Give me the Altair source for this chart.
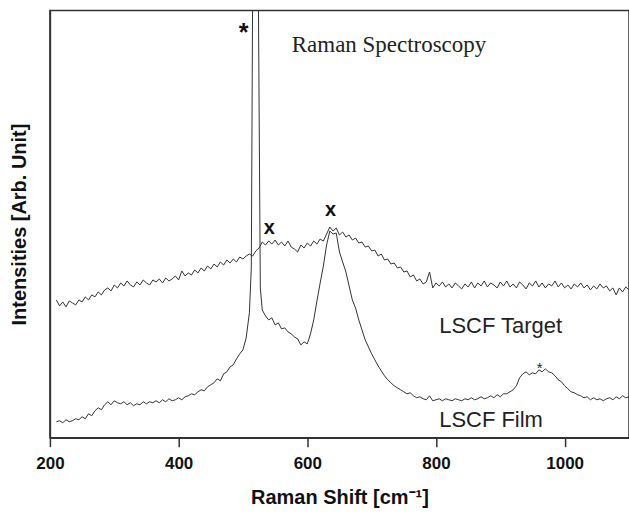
import altair as alt
import pandas as pd

# Raman shift sampling grid for the target spectrum (cm^-1)
shift = [
    210, 215, 220, 225, 230, 235, 240, 245, 250, 255,
    260, 265, 270, 275, 280, 285, 290, 295, 300, 305,
    310, 315, 320, 325, 330, 335, 340, 345, 350, 355,
    360, 365, 370, 375, 380, 385, 390, 395, 400, 405,
    410, 415, 420, 425, 430, 435, 440, 445, 450, 455,
    460, 465, 470, 475, 480, 485, 490, 495, 500, 505,
    510, 515, 520, 525, 530, 535, 540, 545, 550, 555,
    560, 565, 570, 575, 580, 585, 590, 595, 600, 605,
    610, 615, 620, 625, 630, 635, 640, 645, 650, 655,
    660, 665, 670, 675, 680, 685, 690, 695, 700, 705,
    710, 715, 720, 725, 730, 735, 740, 745, 750, 755,
    760, 765, 770, 775, 780, 785, 790, 795, 800, 805,
    810, 815, 820, 825, 830, 835, 840, 845, 850, 855,
    860, 865, 870, 875, 880, 885, 890, 895, 900, 905,
    910, 915, 920, 925, 930, 935, 940, 945, 950, 955,
    960, 965, 970, 975, 980, 985, 990, 995, 1000, 1005,
    1010, 1015, 1020, 1025, 1030, 1035, 1040, 1045, 1050, 1055,
    1060, 1065, 1070, 1075, 1080, 1085, 1090, 1095, 1100,
]

# LSCF Target spectrum (arbitrary units)
target = [
    138, 132, 136, 131, 137, 135, 133, 138, 136, 141,
    138, 143, 141, 146, 143, 148, 150, 147, 153, 150,
    155, 152, 157, 153, 151, 156, 153, 158, 155, 153,
    158, 156, 159, 155, 160, 157, 159, 162, 158, 167,
    162, 165, 163, 168, 165, 170, 167, 172, 169, 174,
    171, 176, 173, 178, 175, 179, 176, 181, 179, 182,
    184, 182, 187, 190, 196, 193, 197, 194, 198, 193,
    196, 192, 197, 191, 189, 186, 193, 190, 195, 192,
    197, 194, 199, 197, 204, 211, 207, 210, 203, 206,
    201, 203, 198, 200, 195, 196, 191, 192, 187, 188,
    182, 184, 178, 179, 174, 175, 170, 171, 166, 167,
    161, 163, 157, 159, 154, 156, 166, 150, 155, 152,
    156, 151, 154, 150, 155, 152, 149, 154, 151, 156,
    150, 155, 152, 157, 151, 155, 153, 150, 156, 152,
    157, 151, 154, 150, 156, 153, 149, 155, 152, 157,
    151, 155, 150, 154, 152, 157, 151, 155, 150, 153,
    149, 154, 151, 155, 150, 153, 148, 152, 149, 154,
    150, 152, 147, 150, 143, 150, 146, 151, 148,
]

# Raman shift sampling grid for the film spectrum (denser around the Si line)
film_shift = [
    210, 215, 220, 225, 230, 235, 240, 245, 250, 255,
    260, 265, 270, 275, 280, 285, 290, 295, 300, 305,
    310, 315, 320, 325, 330, 335, 340, 345, 350, 355,
    360, 365, 370, 375, 380, 385, 390, 395, 400, 405,
    410, 415, 420, 425, 430, 435, 440, 445, 450, 455,
    460, 465, 470, 475, 480, 485, 490, 495, 500, 505,
    510, 513, 515, 520, 524, 527, 530, 535, 540, 545, 550, 555,
    560, 565, 570, 575, 580, 585, 590, 595, 600, 605,
    610, 615, 620, 625, 630, 635, 640, 645, 650, 655,
    660, 665, 670, 675, 680, 685, 690, 695, 700, 705,
    710, 715, 720, 725, 730, 735, 740, 745, 750, 755,
    760, 765, 770, 775, 780, 785, 790, 795, 800, 805,
    810, 815, 820, 825, 830, 835, 840, 845, 850, 855,
    860, 865, 870, 875, 880, 885, 890, 895, 900, 905,
    910, 915, 920, 925, 930, 935, 940, 945, 950, 955,
    960, 965, 970, 975, 980, 985, 990, 995, 1000, 1005,
    1010, 1015, 1020, 1025, 1030, 1035, 1040, 1045, 1050, 1055,
    1060, 1065, 1070, 1075, 1080, 1085, 1090, 1095, 1100,
]

# LSCF Film spectrum (arbitrary units); Si line near 520 runs off the top
film = [
    16, 17, 15, 18, 16, 17, 19, 18, 21, 19,
    24, 22, 27, 30, 28, 33, 36, 33, 37, 35,
    34, 36, 33, 35, 32, 34, 33, 36, 34, 36,
    35, 37, 35, 38, 36, 39, 37, 38, 40, 38,
    41, 42, 44, 43, 46, 48, 47, 51, 53, 55,
    59, 57, 64, 66, 71, 73, 79, 84, 88, 100,
    125, 170, 440, 440, 440, 150, 128, 122, 118, 120, 113, 115,
    109, 110, 106, 104, 101, 99, 93, 96, 94, 104,
    118, 137, 155, 172, 193, 207, 204, 205, 186, 176,
    166, 152, 138, 130, 118, 108, 98, 91, 84, 78,
    72, 67, 62, 58, 55, 52, 50, 48, 46, 44,
    45, 42, 40, 41, 39, 38, 42, 37, 38, 39,
    37, 39, 38, 37, 39, 38, 37, 39, 38, 40,
    38, 39, 41, 39, 40, 42, 40, 43, 41, 44,
    44, 46, 48, 52, 60, 64, 66, 63, 65, 64,
    68, 66, 69, 66, 65, 62, 58, 56, 52, 49,
    46, 45, 43, 42, 40, 41, 38, 40, 38, 39,
    37, 39, 40, 38, 41, 39, 42, 40, 41,
]

# Annotations
label_text = ["LSCF Target", "LSCF Film"]
label_x = [805, 805]
label_y = [112, 18]

star_text = ["*"]
star_x = [501]
star_y = [405]

x_mark_text = ["x", "x"]
x_mark_x = [541, 636]
x_mark_y = [210, 228]

small_star_text = ["*"]
small_star_x = [961]
small_star_y = [70]

title_text = ["Raman Spectroscopy"]
title_x = [727]
title_y = [393]

df = pd.DataFrame({
    "shift": shift + film_shift,
    "intensity": target + film,
    "series": ["LSCF Target"] * len(shift) + ["LSCF Film"] * len(film_shift),
})

xscale = alt.Scale(domain=[200, 1100], nice=False, zero=False)
yscale = alt.Scale(domain=[0, 428], nice=False, zero=False)

lines = alt.Chart(df).mark_line(color="#333333", strokeWidth=1.0, clip=True).encode(
    x=alt.X("shift:Q", scale=xscale,
            axis=alt.Axis(title="Raman Shift [cm⁻¹]", values=[200, 400, 600, 800, 1000],
                          format="d", grid=False, labelFlush=False)),
    y=alt.Y("intensity:Q", scale=yscale,
            axis=alt.Axis(title="Intensities [Arb. Unit]", labels=False, ticks=False, grid=False)),
    detail="series:N",
)

labels = alt.Chart(pd.DataFrame({"t": label_text, "x": label_x, "y": label_y})).mark_text(
    align="left", baseline="middle", font="Liberation Sans", fontSize=22, color="#222222"
).encode(x=alt.X("x:Q", scale=xscale), y=alt.Y("y:Q", scale=yscale), text="t:N")

star = alt.Chart(pd.DataFrame({"t": star_text, "x": star_x, "y": star_y})).mark_text(
    align="center", baseline="middle", font="Liberation Sans", fontSize=25,
    fontWeight="bold", color="#111111"
).encode(x=alt.X("x:Q", scale=xscale), y=alt.Y("y:Q", scale=yscale), text="t:N")

x_marks = alt.Chart(pd.DataFrame({"t": x_mark_text, "x": x_mark_x, "y": x_mark_y})).mark_text(
    align="center", baseline="middle", font="Liberation Sans", fontSize=20,
    fontWeight="bold", color="#111111"
).encode(x=alt.X("x:Q", scale=xscale), y=alt.Y("y:Q", scale=yscale), text="t:N")

small_star = alt.Chart(pd.DataFrame({"t": small_star_text, "x": small_star_x, "y": small_star_y})).mark_text(
    align="center", baseline="middle", font="Liberation Sans", fontSize=15, color="#222222"
).encode(x=alt.X("x:Q", scale=xscale), y=alt.Y("y:Q", scale=yscale), text="t:N")

title = alt.Chart(pd.DataFrame({"t": title_text, "x": title_x, "y": title_y})).mark_text(
    align="center", baseline="middle", font="Liberation Serif", fontSize=23, color="#222222"
).encode(x=alt.X("x:Q", scale=xscale), y=alt.Y("y:Q", scale=yscale), text="t:N")

chart = alt.layer(lines, labels, star, x_marks, small_star, title).properties(
    width=580, height=428,
    padding={"left": 50, "top": 10, "right": 0, "bottom": 76},
    autosize=alt.AutoSizeParams(type="none"),
    background="white",
).configure_view(
    stroke="#333333", strokeWidth=1.5
).configure_axis(
    domainColor="#333333", domainWidth=1.5, tickColor="#333333", tickWidth=1.5,
    labelFont="Liberation Sans", labelFontWeight="bold", labelFontSize=17, labelColor="#111111",
    titleFont="Liberation Sans", titleFontWeight="bold", titleFontSize=20, titleColor="#111111",
).configure_axisX(
    tickSize=9, labelPadding=9, titlePadding=16,
).configure_axisY(
    titlePadding=20,
)

chart.save("out.html", embed_options={"renderer": "svg", "actions": False})
